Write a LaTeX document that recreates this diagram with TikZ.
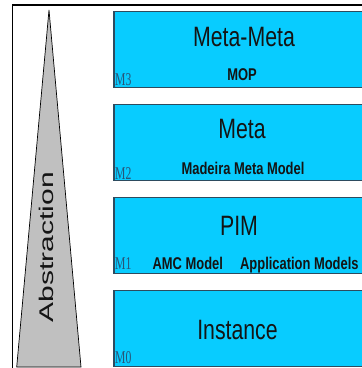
\documentclass[tikz,border=0pt]{standalone}
\usepackage{graphicx}
\usepackage{fontspec}
\setmainfont{Liberation Sans}
\newfontfamily\levelfont{Liberation Serif}
\definecolor{layerfill}{RGB}{8,204,255}
\definecolor{layerline}{RGB}{45,75,95}
\definecolor{levelink}{RGB}{40,85,120}
\definecolor{wedgefill}{RGB}{192,192,192}
\definecolor{ink}{RGB}{20,20,20}
\tikzset{
  layer/.style={draw=layerline, line width=1.2pt, fill=layerfill, anchor=north west,
    minimum width=300pt, minimum height=76pt, inner sep=0pt},
  title/.style={anchor=base, inner sep=0pt, xscale=0.76, text=ink,
    font=\fontsize{28}{30}\selectfont},
  model/.style={anchor=base west, inner sep=0pt, xscale=0.76, text=ink,
    font=\fontsize{17}{19}\selectfont\bfseries},
  level/.style={anchor=base west, inner sep=0pt, xscale=0.65, text=levelink,
    font=\levelfont\fontsize{18}{20}\selectfont},
}
\begin{document}
\begin{tikzpicture}[x=1pt,y=-1pt]
  \useasboundingbox (0,0) rectangle (362,368);
  \clip (0,0) rectangle (362,368);
  \fill[white] (0,0) rectangle (362,368);

  % outer frame (runs past the right and bottom edges)
  \draw[line width=1.5pt] (12.5,5) rectangle (380,380);

  % abstraction wedge
  \coordinate (apex) at (49,10);
  \coordinate (baseL) at (16.7,367);
  \coordinate (baseR) at (81,367);
  \draw[fill=wedgefill, line width=0.7pt] (apex) -- (baseL) -- (baseR) -- cycle;
  \node[inner sep=0pt, text=ink] (abs) at (46,247)
    {\scalebox{0.66}[1]{\rotatebox{90}{\fontsize{30}{32}\selectfont Abstraction}}};

  % the four layers
  \node[layer] (m3) at (113.5,10.5) {};
  \node[layer] (m2) at (113.5,104) {};
  \node[layer] (m1) at (113.5,197) {};
  \node[layer] (m0) at (113.5,290) {};

  % layer titles
  \node[title] (t3) at (244,46.5) {Meta-Meta};
  \node[title] (t2) at (242,138) {Meta};
  \node[title] (t1) at (239,235.5) {PIM};
  \node[title] (t0) at (237.5,339) {Instance};

  % models in each layer
  \node[model, anchor=base] (mop) at (242,80) {MOP};
  \node[model] (mmm) at (181.5,174) {Madeira Meta Model};
  \node[model] (amc) at (152.5,269) {AMC Model};
  \node[model] (app) at (240,269) {Application Models};

  % level tags
  \node[level] (l3) at (115,85) {M3};
  \node[level] (l2) at (115,179) {M2};
  \node[level] (l1) at (115,269) {M1};
  \node[level] (l0) at (115,363) {M0};
\end{tikzpicture}
\end{document}
